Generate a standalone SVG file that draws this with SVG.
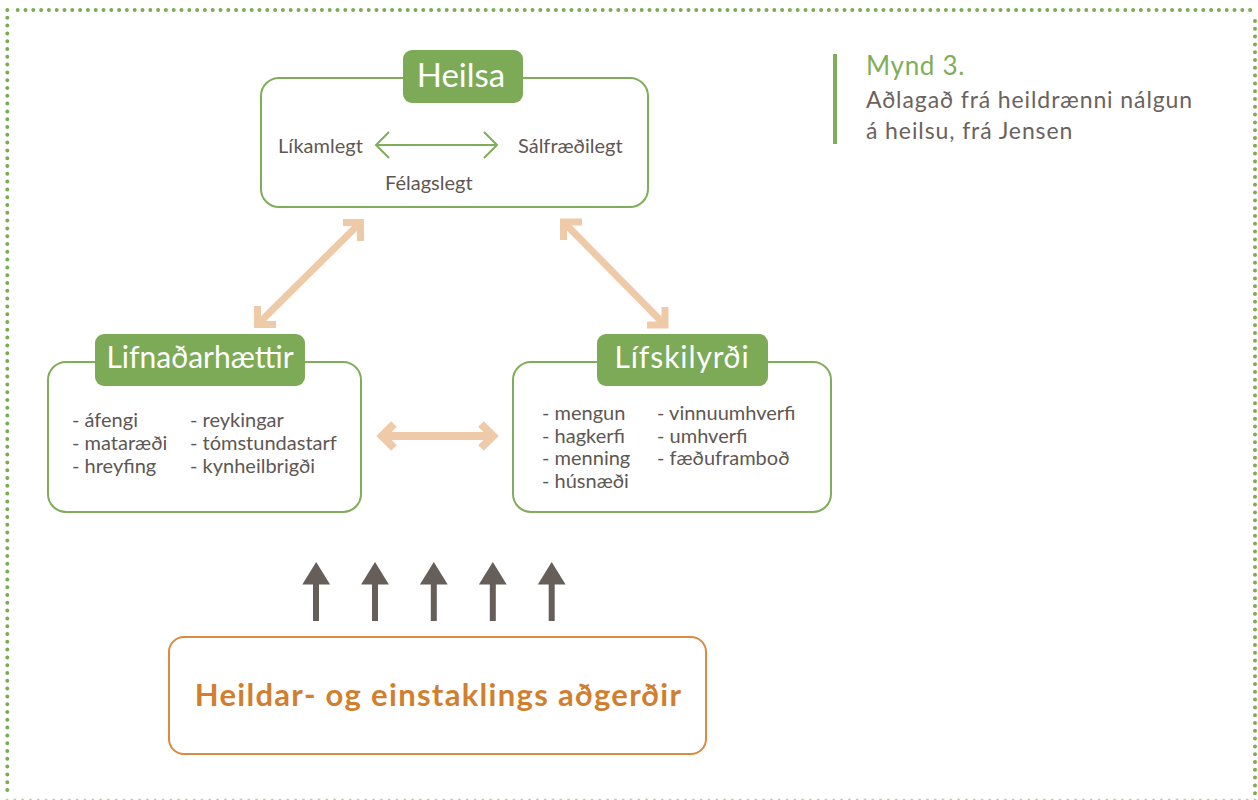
<svg xmlns="http://www.w3.org/2000/svg" width="1258" height="800" viewBox="0 0 1258 800">
  <style>
    .frame { stroke: #7dab55; stroke-width: 4; stroke-linecap: round; stroke-dasharray: 0 7.8; fill: none; }
    .box { fill: #ffffff; stroke: #7fad5a; stroke-width: 2; }
    .pill { fill: #7caa56; }
    .pill-text { font-family: Lato, "Noto Sans", sans-serif; fill: #ffffff; text-anchor: middle; }
    .body { font-family: Lato, "Noto Sans", sans-serif; font-size: 20px; fill: #5e5753; }
    .link { stroke: #efcaa8; stroke-width: 7; fill: none; stroke-linecap: butt; stroke-linejoin: miter; }
    .inner { stroke: #7fad5a; stroke-width: 2; fill: none; }
    .push { fill: #665e59; }
  </style>

  <!-- dotted page frame -->
  <g id="frame">
    <line class="frame" x1="17.7" y1="10" x2="1256" y2="10"/>
    <line class="frame" x1="7.3" y1="10" x2="7.3" y2="792"/>
    <line class="frame" x1="1255" y1="21" x2="1255" y2="800"/>
    <line class="frame" x1="7" y1="800" x2="1256" y2="800" style="stroke:#b9d3a3;stroke-width:3"/>
  </g>

  <!-- caption -->
  <g id="caption">
    <rect x="833" y="54" width="4" height="90" fill="#7fad5a"/>
    <text x="866" y="75" letter-spacing="0.7" style="font-family:Lato,'Noto Sans',sans-serif;font-size:26px;fill:#7fad5a">Mynd 3.</text>
    <text x="866" y="108" letter-spacing="0.9" style="font-family:Lato,'Noto Sans',sans-serif;font-size:23px;fill:#6b625d">Aðlagað frá heildrænni nálgun</text>
    <text x="866" y="139" letter-spacing="0.9" style="font-family:Lato,'Noto Sans',sans-serif;font-size:23px;fill:#6b625d">á heilsu, frá Jensen</text>
  </g>

  <!-- connectors -->
  <g id="connectors">
    <!-- Heilsa <-> Lifnaðarhættir -->
    <path class="link" d="M360.5,222.5 L257.5,324.5"/>
    <path class="link" d="M343,222.5 H360.5 V241"/>
    <path class="link" d="M257.5,306 V324.5 H276"/>
    <!-- Heilsa <-> Lífskilyrði -->
    <path class="link" d="M563.5,222 L665,325"/>
    <path class="link" d="M582,222 H563.5 V240"/>
    <path class="link" d="M665,307 V325 H647"/>
    <!-- Lifnaðarhættir <-> Lífskilyrði -->
    <path class="link" d="M382,436 H493" style="stroke-width:8"/>
    <path class="link" d="M394,424 L382,436 L394,448" style="stroke-width:8"/>
    <path class="link" d="M481,424 L493,436 L481,448" style="stroke-width:8"/>
    <!-- actions push upward -->
    <g id="push-arrows">
      <rect class="push" x="313" y="583" width="6" height="38"/>
      <polygon class="push" points="316.2,562 302.3,584.5 330.1,584.5"/>
      <rect class="push" x="372" y="583" width="6" height="38"/>
      <polygon class="push" points="375,562 361.1,584.5 388.9,584.5"/>
      <rect class="push" x="430.8" y="583" width="6" height="38"/>
      <polygon class="push" points="433.8,562 419.9,584.5 447.7,584.5"/>
      <rect class="push" x="489.8" y="583" width="6" height="38"/>
      <polygon class="push" points="492.8,562 478.9,584.5 506.7,584.5"/>
      <rect class="push" x="548.7" y="583" width="6" height="38"/>
      <polygon class="push" points="551.7,562 537.8,584.5 565.6,584.5"/>
    </g>
  </g>

  <!-- Heilsa -->
  <g id="heilsa">
    <rect class="box" x="261" y="78" width="387" height="129" rx="18"/>
    <rect class="pill" x="403" y="50" width="120" height="53" rx="9"/>
    <text class="pill-text" x="461" y="87" font-size="33">Heilsa</text>
    <text class="body" x="278" y="153">Líkamlegt</text>
    <text class="body" x="518" y="153">Sálfræðilegt</text>
    <text class="body" x="385" y="190">Félagslegt</text>
    <path class="inner" d="M376,145 H497 M389,132 L376,145 L389,158 M484,132 L497,145 L484,158"/>
  </g>

  <!-- Lifnaðarhættir -->
  <g id="lifnadarhaettir">
    <rect class="box" x="48" y="362" width="313" height="150" rx="18"/>
    <rect class="pill" x="95" y="334" width="210" height="52" rx="9"/>
    <text class="pill-text" x="200" y="368" font-size="30">Lifnaðarhættir</text>
    <text class="body" x="72" y="427">- áfengi</text>
    <text class="body" x="72" y="450">- mataræði</text>
    <text class="body" x="72" y="473">- hreyfing</text>
    <text class="body" x="190" y="427">- reykingar</text>
    <text class="body" x="190" y="450">- tómstundastarf</text>
    <text class="body" x="190" y="473">- kynheilbrigði</text>
  </g>

  <!-- Lífskilyrði -->
  <g id="lifskilyrdi">
    <rect class="box" x="513" y="362" width="318" height="150" rx="18"/>
    <rect class="pill" x="597" y="334" width="171" height="52" rx="9"/>
    <text class="pill-text" x="682" y="368" font-size="30" letter-spacing="0.9">Lífskilyrði</text>
    <text class="body" x="542" y="420">- mengun</text>
    <text class="body" x="542" y="443">- hagkerfi</text>
    <text class="body" x="542" y="465">- menning</text>
    <text class="body" x="542" y="488">- húsnæði</text>
    <text class="body" x="657" y="420">- vinnuumhverfi</text>
    <text class="body" x="657" y="443">- umhverfi</text>
    <text class="body" x="657" y="465">- fæðuframboð</text>
  </g>

  <!-- Heildar- og einstaklings aðgerðir -->
  <g id="adgerdir">
    <rect x="169" y="637" width="537" height="117" rx="15" fill="#ffffff" stroke="#d98b3e" stroke-width="2"/>
    <text x="438.5" y="706" text-anchor="middle" letter-spacing="1.3" style="font-family:Lato,'Noto Sans',sans-serif;font-size:31px;font-weight:bold;fill:#d17f2f">Heildar- og einstaklings aðgerðir</text>
  </g>
</svg>
